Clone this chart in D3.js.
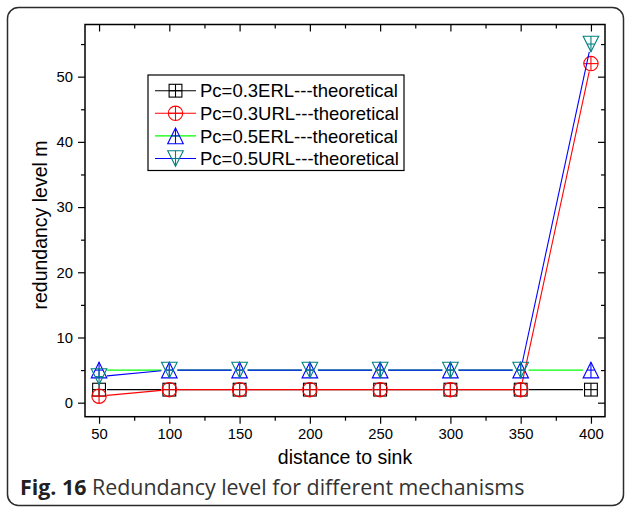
<!DOCTYPE html>
<html>
<head>
<meta charset="utf-8">
<script src="https://cdn.jsdelivr.net/npm/d3@7"></script>
<style>
  html, body { margin: 0; padding: 0; background: #fff; }
  svg { display: block; }
</style>
</head>
<body>
<svg id="chart" width="627" height="507"></svg>
<script>
// Distance to sink (x axis categories)
const distances = [50, 100, 150, 200, 250, 300, 350, 400];

// Redundancy level per mechanism
const pc03ERL = [2, 2, 2, 2, 2, 2, 2, 2];
const pc03URL = [1, 2, 2, 2, 2, 2, 2, 52];
const pc05ERL = [5, 5, 5, 5, 5, 5, 5, 5];
const pc05URL = [4, 5, 5, 5, 5, 5, 5, 55];

const seriesNames = [
  "Pc=0.3ERL---theoretical",
  "Pc=0.3URL---theoretical",
  "Pc=0.5ERL---theoretical",
  "Pc=0.5URL---theoretical"
];

const xMajorTicks = [50, 100, 150, 200, 250, 300, 350, 400];
const xMinorTicks = [75, 125, 175, 225, 275, 325, 375];
const yMajorTicks = [0, 10, 20, 30, 40, 50];
const yMinorTicks = [5, 15, 25, 35, 45, 55];

const series = [
  { name: seriesNames[0], values: pc03ERL, line: "#000000", marker: "#000000", symbol: "square" },
  { name: seriesNames[1], values: pc03URL, line: "#ff0000", marker: "#ff0000", symbol: "circle" },
  { name: seriesNames[2], values: pc05ERL, line: "#00ff00", marker: "#0000ff", symbol: "triUp" },
  { name: seriesNames[3], values: pc05URL, line: "#0000ff", marker: "#008080", symbol: "triDown" }
];

const svg = d3.select("#chart");
const font = "'Liberation Sans', Arial, sans-serif";

// Rounded outer panel
svg.append("rect")
  .attr("x", 7.5).attr("y", 7.5)
  .attr("width", 616).attr("height", 498)
  .attr("rx", 11).attr("ry", 11)
  .attr("fill", "none")
  .attr("stroke", "#2b2b2b")
  .attr("stroke-width", 1.5);

const plot = { left: 85, right: 605, top: 24.5, bottom: 416.7 };

const x = d3.scaleLinear().domain([40, 410]).range([plot.left, plot.right]);
const y = d3.scaleLinear().domain([-2.15, 58]).range([plot.bottom, plot.top]);

const MAJ = 7, MIN = 4;

function styleAxis(g) {
  g.select(".domain").remove();
  g.selectAll(".tick line").attr("stroke", "#000").attr("stroke-width", 1.2);
  g.selectAll(".tick text")
    .attr("font-family", font)
    .attr("font-size", 14.8)
    .attr("fill", "#000");
}

// Bottom axis: major labelled ticks and minor ticks (outward)
svg.append("g").attr("transform", `translate(0,${plot.bottom})`)
  .call(d3.axisBottom(x).tickValues(xMajorTicks).tickSize(MAJ).tickPadding(5).tickFormat(d3.format("d")))
  .call(styleAxis);
svg.append("g").attr("transform", `translate(0,${plot.bottom})`)
  .call(d3.axisBottom(x).tickValues(xMinorTicks).tickSize(MIN).tickFormat(""))
  .call(styleAxis);

// Top axis: inward ticks, no labels
svg.append("g").attr("transform", `translate(0,${plot.top})`)
  .call(d3.axisBottom(x).tickValues(xMajorTicks).tickSize(MAJ).tickFormat(""))
  .call(styleAxis);
svg.append("g").attr("transform", `translate(0,${plot.top})`)
  .call(d3.axisBottom(x).tickValues(xMinorTicks).tickSize(MIN).tickFormat(""))
  .call(styleAxis);

// Left axis (outward)
svg.append("g").attr("transform", `translate(${plot.left},0)`)
  .call(d3.axisLeft(y).tickValues(yMajorTicks).tickSize(MAJ).tickPadding(5).tickFormat(d3.format("d")))
  .call(styleAxis);
svg.append("g").attr("transform", `translate(${plot.left},0)`)
  .call(d3.axisLeft(y).tickValues(yMinorTicks).tickSize(MIN).tickFormat(""))
  .call(styleAxis);

// Right axis: inward ticks
svg.append("g").attr("transform", `translate(${plot.right},0)`)
  .call(d3.axisLeft(y).tickValues(yMajorTicks).tickSize(MAJ).tickFormat(""))
  .call(styleAxis);
svg.append("g").attr("transform", `translate(${plot.right},0)`)
  .call(d3.axisLeft(y).tickValues(yMinorTicks).tickSize(MIN).tickFormat(""))
  .call(styleAxis);

// Plot frame
svg.append("rect")
  .attr("x", plot.left).attr("y", plot.top)
  .attr("width", plot.right - plot.left).attr("height", plot.bottom - plot.top)
  .attr("fill", "none").attr("stroke", "#000").attr("stroke-width", 1.5);

// Marker drawing (outline symbols with an inner cross)
const R = 7.2;
function drawMarker(g, kind, cx, cy, color) {
  const m = g.append("g").attr("transform", `translate(${cx},${cy})`)
    .attr("fill", "none").attr("stroke", color).attr("stroke-width", 1.1);
  if (kind === "square") {
    const s = R - 0.8;
    m.append("rect").attr("x", -s).attr("y", -s).attr("width", 2 * s).attr("height", 2 * s);
    m.append("line").attr("x1", 0).attr("x2", 0).attr("y1", -s).attr("y2", s);
    m.append("line").attr("x1", -s).attr("x2", s).attr("y1", 0).attr("y2", 0);
  } else if (kind === "circle") {
    m.append("circle").attr("r", R);
    m.append("line").attr("x1", 0).attr("x2", 0).attr("y1", -R).attr("y2", R);
    m.append("line").attr("x1", -R).attr("x2", R).attr("y1", 0).attr("y2", 0);
  } else if (kind === "triUp") {
    const h = R + 0.6;
    m.append("path").attr("d", `M0,${-h}L${h},${h}L${-h},${h}Z`);
    m.append("line").attr("x1", 0).attr("x2", 0).attr("y1", -h).attr("y2", h);
    m.append("line").attr("x1", -h / 2).attr("x2", h / 2).attr("y1", 0).attr("y2", 0);
  } else {
    const h = R + 0.6;
    m.append("path").attr("d", `M0,${h}L${h},${-h}L${-h},${-h}Z`);
    m.append("line").attr("x1", 0).attr("x2", 0).attr("y1", -h).attr("y2", h);
    m.append("line").attr("x1", -h / 2).attr("x2", h / 2).attr("y1", 0).attr("y2", 0);
  }
}

// Series: line segments leave a small gap around each marker
const GAP = 8;
const dataLayer = svg.append("g");
series.forEach(s => {
  const pts = distances.map((d, i) => [x(d), y(s.values[i])]);
  const g = dataLayer.append("g");
  for (let i = 0; i < pts.length - 1; i++) {
    const [x1, y1] = pts[i], [x2, y2] = pts[i + 1];
    const len = Math.hypot(x2 - x1, y2 - y1);
    if (len <= 2 * GAP) continue;
    const ux = (x2 - x1) / len, uy = (y2 - y1) / len;
    g.append("line")
      .attr("x1", x1 + ux * GAP).attr("y1", y1 + uy * GAP)
      .attr("x2", x2 - ux * GAP).attr("y2", y2 - uy * GAP)
      .attr("stroke", s.line).attr("stroke-width", 1.1);
  }
  pts.forEach(p => drawMarker(g, s.symbol, p[0], p[1], s.marker));
});

// Legend
const legend = svg.append("g");
legend.append("rect")
  .attr("x", 148).attr("y", 75)
  .attr("width", 256).attr("height", 95.5)
  .attr("fill", "#fff").attr("stroke", "#000").attr("stroke-width", 1.2);
series.forEach((s, i) => {
  const cy = 90.7 + i * 22.6;
  legend.append("line")
    .attr("x1", 155).attr("x2", 196).attr("y1", cy).attr("y2", cy)
    .attr("stroke", s.line).attr("stroke-width", 1.1);
  drawMarker(legend, s.symbol, 175.5, cy, s.marker);
  legend.append("text")
    .attr("x", 200).attr("y", cy)
    .attr("dy", "0.36em")
    .attr("font-family", font).attr("font-size", 18.5)
    .attr("fill", "#000")
    .text(s.name);
});

// Axis titles
svg.append("text")
  .attr("x", (plot.left + plot.right) / 2).attr("y", 464)
  .attr("text-anchor", "middle")
  .attr("font-family", font).attr("font-size", 19.5)
  .attr("fill", "#000")
  .text("distance to sink");

svg.append("text")
  .attr("transform", `translate(47,225) rotate(-90)`)
  .attr("text-anchor", "middle")
  .attr("font-family", font).attr("font-size", 19.5)
  .attr("fill", "#000")
  .text("redundancy level m");

// Figure caption
const cap = svg.append("text")
  .attr("x", 20).attr("y", 495)
  .attr("font-family", "'Open Sans', sans-serif").attr("font-size", 21.4)
  .attr("fill", "#231f20");
cap.append("tspan").attr("font-weight", "bold").text("Fig. 16");
cap.append("tspan").attr("fill", "#333").text(" Redundancy level for different mechanisms");
</script>
</body>
</html>
